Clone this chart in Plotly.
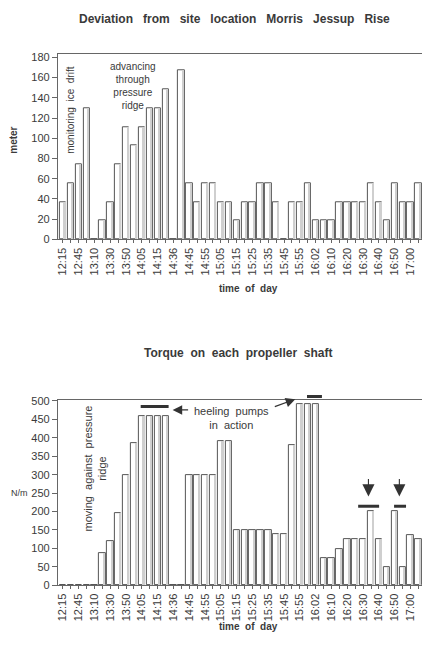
import plotly.graph_objects as go
from plotly.subplots import make_subplots

time_labels = ["12:15", "12:45", "13:10", "13:30", "13:50", "14:05", "14:15", "14:36",
               "14:45", "14:55", "15:05", "15:15", "15:25", "15:35", "15:45", "15:55",
               "16:02", "16:10", "16:20", "16:30", "16:40", "16:50", "17:00", "17:10"]

deviation_m = [37, 56, 74, 130, 0, 19, 37, 74, 111, 93,
               111, 130, 130, 148, 0, 167, 56, 37, 56, 56,
               37, 37, 19, 37, 37, 56, 56, 37, 0, 37,
               37, 56, 19, 19, 19, 37, 37, 37, 37, 56,
               37, 19, 56, 37, 37, 56, 56, 19]

torque = [0, 0, 0, 0, 0, 88, 120, 195, 300, 385,
          460, 460, 460, 460, 0, 0, 300, 300, 300, 300,
          390, 390, 150, 150, 150, 150, 150, 138, 138, 380,
          490, 490, 490, 75, 75, 97, 125, 125, 125, 200,
          125, 50, 200, 50, 135, 125, 100]

# page has an 8px body margin; size the figure so the page is exactly 430x646
OFF = 8
W, H = 430 - 2 * OFF, 646 - 2 * OFF
FONT = "Liberation Sans"
TXT = "#3a3a3a"
LINE = "#666666"
DARK = "#333333"

X0_PX, STEP_PX = 62.0, 7.92  # window x of first bar centre, bar pitch


def px(x):  # window pixel -> paper x
    return (x - OFF) / W


def py(y):  # window pixel -> paper y
    return (646 - OFF - y) / H


def ix(x):  # window pixel -> bar index coordinate
    return (x - X0_PX) / STEP_PX


fig = make_subplots(rows=2, cols=1)


def add_bars(values, row):
    xs = list(range(len(values)))
    fig.add_trace(go.Bar(x=xs, y=values, width=0.8, offset=-0.4,
                         marker=dict(color="white", line=dict(color="#555555", width=1)),
                         hoverinfo="skip", showlegend=False), row=row, col=1)
    fig.add_trace(go.Bar(x=xs, y=values, width=0.2, offset=0.12,
                         marker=dict(color="#cfcfcf", line=dict(width=0)),
                         hoverinfo="skip", showlegend=False), row=row, col=1)


add_bars(deviation_m, 1)
add_bars(torque, 2)

n_bars = len(deviation_m)
tickvals = list(range(n_bars))
ticktext = [time_labels[i // 2] if i % 2 == 0 else "" for i in range(n_bars)]

fig.update_xaxes(range=[ix(57), ix(430 - OFF)], tickmode="array", tickvals=tickvals,
                 ticktext=ticktext, tickangle=-90,
                 tickfont=dict(family=FONT, size=11, color=TXT),
                 ticks="outside", ticklen=3, tickcolor=LINE, ticklabeloverflow="allow",
                 showline=True, linecolor=LINE, mirror=True, showgrid=False, zeroline=False,
                 domain=[px(57), 1.0])

fig.update_yaxes(range=[0, 183], dtick=20, row=1, col=1, domain=[py(238.5), py(50)])
fig.update_yaxes(range=[0, 502], dtick=50, row=2, col=1, domain=[py(590.5), py(402)])
fig.update_yaxes(tickfont=dict(family=FONT, size=11, color=TXT), ticks="outside",
                 ticklen=5, tickcolor=LINE, showline=True, linecolor=LINE,
                 showgrid=False, zeroline=False)


def ptext(text, x, y, size=11, angle=0, xanchor="center"):
    return dict(text=text, x=px(x), y=py(y), xref="paper", yref="paper",
                xanchor=xanchor, yanchor="middle", textangle=angle, showarrow=False,
                font=dict(family=FONT, size=size, color=TXT))


ann = []
ann.append(ptext("<b>Deviation   from   site   location   Morris   Jessup   Rise</b>",
                 234, 14, 12))
ann.append(ptext("<b>Torque  on  each  propeller  shaft</b>", 238, 354, 12))
ann.append(ptext("<b>time  of  day</b>", 248, 288, 10))
ann.append(ptext("<b>time  of  day</b>", 248, 632, 10))
ann.append(ptext("<b>meter</b>", 13, 137, 10, angle=-90))
ann.append(ptext("N/m", 8, 496.5, 9, xanchor="left"))
ann.append(ptext("heeling  pumps<br>in  action", 231, 420, 11))

ann.append(dict(text="monitoring  ice  drift", x=ix(70), y=128, xref="x", yref="y",
                xanchor="center", yanchor="middle",
                textangle=-90, showarrow=False, font=dict(family=FONT, size=10, color=TXT)))
ann.append(dict(text="advancing<br>through<br>pressure<br>ridge", x=ix(132), y=152,
                xref="x", yref="y", xanchor="center", yanchor="middle", showarrow=False,
                align="center", font=dict(family=FONT, size=10, color=TXT)))
ann.append(dict(text="moving  against  pressure<br>ridge", x=ix(94), y=316, xref="x2",
                yref="y2", xanchor="center", yanchor="middle",
                textangle=-90, showarrow=False, align="center",
                font=dict(family=FONT, size=11, color=TXT)))
# heeling pump arrows
ann.append(dict(text="", x=px(172), y=py(412), xref="paper", yref="paper", ax=17, ay=0,
                showarrow=True, arrowhead=2, arrowsize=1.6, arrowwidth=1.2, arrowcolor=DARK))
ann.append(dict(text="", x=px(295), y=py(401), xref="paper", yref="paper", ax=-22, ay=8,
                showarrow=True, arrowhead=2, arrowsize=1.6, arrowwidth=1.2, arrowcolor=DARK))
# small vertical arrows
for xa in (368.3, 399.3):
    ann.append(dict(text="", x=px(xa), y=py(500), xref="paper", yref="paper", ax=0, ay=-19,
                    showarrow=True, arrowhead=2, arrowsize=2.2, arrowwidth=1.1,
                    arrowcolor=DARK))

shapes = []
for (xa, xb, yy) in [(140, 168, 408.5), (306.7, 321.7, 398.3), (358, 379, 510), (394, 406, 510)]:
    shapes.append(dict(type="line", xref="paper", yref="paper", x0=px(xa), x1=px(xb),
                       y0=py(yy), y1=py(yy), line=dict(color=DARK, width=3)))

fig.update_layout(width=W, height=H, margin=dict(l=0, r=0, t=0, b=0),
                  paper_bgcolor="white", plot_bgcolor="white", barmode="overlay",
                  bargap=0, showlegend=False, annotations=ann, shapes=shapes,
                  font=dict(family=FONT, color=TXT))

fig.write_html("out.html")
